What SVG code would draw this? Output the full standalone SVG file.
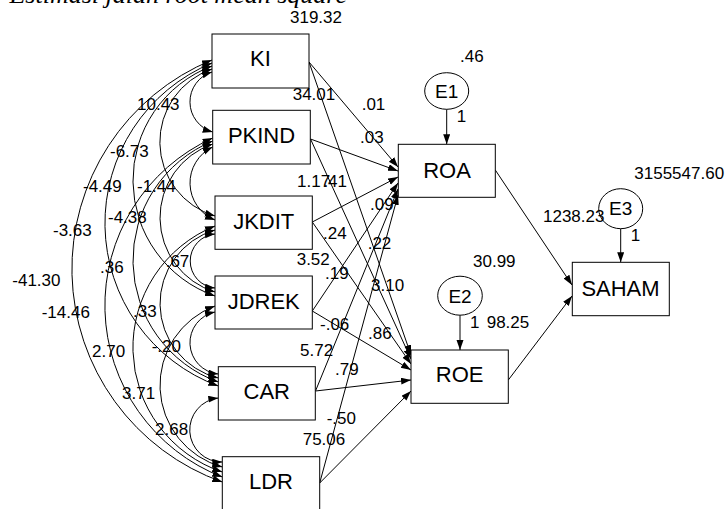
<svg xmlns="http://www.w3.org/2000/svg" width="726" height="509" viewBox="0 0 726 509">
<style>
.box{fill:#fff;stroke:#000;stroke-width:1}
.lat{fill:#fff;stroke:#000;stroke-width:1}
.nl{font-family:"Liberation Sans",Arial,sans-serif;font-size:22px;text-anchor:middle;fill:#000}
.el{font-family:"Liberation Sans",Arial,sans-serif;font-size:19px;text-anchor:middle;fill:#000}
.num{font-family:"Liberation Sans",Arial,sans-serif;font-size:17px;fill:#000}
.ln{fill:none;stroke:#000;stroke-width:1;marker-end:url(#ah)}
.cv{fill:none;stroke:#000;stroke-width:1;marker-start:url(#ah);marker-end:url(#ah)}
.ttl{font-family:"Liberation Serif","Times New Roman",serif;font-style:italic;font-size:26px;text-anchor:end;fill:#000}
</style>
<defs>
<marker id="ah" markerUnits="userSpaceOnUse" markerWidth="11" markerHeight="8" refX="10" refY="3.5" orient="auto-start-reverse">
<path d="M0,0 L10,3.5 L0,7 z" fill="#000"/>
</marker>
</defs>
<text class="ttl" x="347" y="3">Estimasi jalan root mean square</text>
<g id="connectors">
<path class="cv" d="M212,72 A31.3,31.3 0 0 0 212.7,132"/>
<path class="cv" d="M212,69 A77.2,77.2 0 0 0 215,216"/>
<path class="cv" d="M212,66 A122.4,122.4 0 0 0 215,296"/>
<path class="cv" d="M212,63 A173.5,173.5 0 0 0 218.3,386"/>
<path class="cv" d="M212,60 A226,226 0 0 0 222.3,482"/>
<path class="cv" d="M212.7,147 A39.9,39.9 0 0 0 215,220"/>
<path class="cv" d="M212.7,144 A77.8,77.8 0 0 0 215,292"/>
<path class="cv" d="M212.7,141 A129.3,129.3 0 0 0 218.3,382"/>
<path class="cv" d="M212.7,138 A184,184 0 0 0 222.3,477"/>
<path class="cv" d="M215,234 A27.1,27.1 0 0 0 215,288"/>
<path class="cv" d="M215,230 A76.7,76.7 0 0 0 218.3,378"/>
<path class="cv" d="M215,226 A131.2,131.2 0 0 0 222.3,472"/>
<path class="cv" d="M215,312 A31.4,31.4 0 0 0 218.3,374"/>
<path class="cv" d="M215,306 A84.7,84.7 0 0 0 222.3,467"/>
<path class="cv" d="M218.3,398 A32.1,32.1 0 0 0 222.3,462"/>
<path class="ln" d="M309,62 L398,167"/>
<path class="ln" d="M309,62 L411,355"/>
<path class="ln" d="M310.5,139 L398,171"/>
<path class="ln" d="M310.5,139 L411,359"/>
<path class="ln" d="M312.3,222 L398,177"/>
<path class="ln" d="M312.3,222 L411,364"/>
<path class="ln" d="M312.3,311 L398,183"/>
<path class="ln" d="M312.3,311 L411,370"/>
<path class="ln" d="M315.5,391 L398,189"/>
<path class="ln" d="M315.5,391 L411,380"/>
<path class="ln" d="M319.7,483 L398,195"/>
<path class="ln" d="M319.7,483 L411,391"/>
<path class="ln" d="M495.3,170 L572,285"/>
<path class="ln" d="M508.3,380 L572,296"/>
<path class="ln" d="M446.7,109.3 L446.7,144.3"/>
<path class="ln" d="M460,315.2 L460,350"/>
<path class="ln" d="M620.7,228.7 L620.7,262.3"/>
</g>
<g id="KI"><rect class="box" x="212" y="34" width="97" height="54"/><text class="nl" x="260.5" y="66">KI</text></g>
<g id="PKIND"><rect class="box" x="212.7" y="110.3" width="97.6" height="53.7"/><text class="nl" x="261.5" y="143">PKIND</text></g>
<g id="JKDIT"><rect class="box" x="215" y="196" width="97.3" height="53.3"/><text class="nl" x="263.7" y="229">JKDIT</text></g>
<g id="JDREK"><rect class="box" x="215" y="276" width="97.3" height="53"/><text class="nl" x="263.7" y="309">JDREK</text></g>
<g id="CAR"><rect class="box" x="218.3" y="366.7" width="97" height="53.3"/><text class="nl" x="266.8" y="399">CAR</text></g>
<g id="LDR"><rect class="box" x="222.3" y="456.7" width="97.4" height="60"/><text class="nl" x="271" y="489">LDR</text></g>
<g id="ROA"><rect class="box" x="398.3" y="144.3" width="97" height="53"/><text class="nl" x="447" y="177.7">ROA</text></g>
<g id="ROE"><rect class="box" x="411" y="350" width="97.3" height="53.3"/><text class="nl" x="459.7" y="382">ROE</text></g>
<g id="SAHAM"><rect class="box" x="572.3" y="262.3" width="97" height="53.4"/><text class="nl" x="620.5" y="295.7">SAHAM</text></g>
<g id="E1"><ellipse class="lat" cx="446.7" cy="91" rx="22" ry="18.3"/><text class="el" x="446.7" y="97.7">E1</text></g>
<g id="E2"><ellipse class="lat" cx="460" cy="295.7" rx="22.3" ry="19.5"/><text class="el" x="460" y="303">E2</text></g>
<g id="E3"><ellipse class="lat" cx="620.7" cy="208.7" rx="22" ry="20"/><text class="el" x="620.7" y="215">E3</text></g>
<g id="labels">
<text class="num" x="290" y="23">319.32</text>
<text class="num" x="460" y="62">.46</text>
<text class="num" x="456.7" y="122">1</text>
<text class="num" x="292.7" y="100">34.01</text>
<text class="num" x="361.7" y="110">.01</text>
<text class="num" x="137" y="110">10.43</text>
<text class="num" x="360" y="143">.03</text>
<text class="num" x="110" y="157">-6.73</text>
<text class="num" x="297" y="187">1.17</text>
<text class="num" x="323.4" y="187">.41</text>
<text class="num" x="83" y="192">-4.49</text>
<text class="num" x="137" y="192">-1.44</text>
<text class="num" x="634.3" y="179">3155547.60</text>
<text class="num" x="370" y="210">.09</text>
<text class="num" x="543" y="222">1238.23</text>
<text class="num" x="630.7" y="241">1</text>
<text class="num" x="108" y="223">-4.38</text>
<text class="num" x="53" y="236">-3.63</text>
<text class="num" x="323" y="239">.24</text>
<text class="num" x="367.7" y="249">.22</text>
<text class="num" x="296.7" y="265">3.52</text>
<text class="num" x="165.7" y="267">.67</text>
<text class="num" x="473" y="267">30.99</text>
<text class="num" x="100" y="273">.36</text>
<text class="num" x="325" y="279">.19</text>
<text class="num" x="12.3" y="286">-41.30</text>
<text class="num" x="371" y="291">3.10</text>
<text class="num" x="133" y="317">.33</text>
<text class="num" x="41.7" y="318">-14.46</text>
<text class="num" x="470" y="328">1</text>
<text class="num" x="486.7" y="328">98.25</text>
<text class="num" x="320" y="330">-.06</text>
<text class="num" x="368" y="339">.86</text>
<text class="num" x="151.7" y="352">-.20</text>
<text class="num" x="300" y="356">5.72</text>
<text class="num" x="92" y="357">2.70</text>
<text class="num" x="335" y="375">.79</text>
<text class="num" x="122" y="399">3.71</text>
<text class="num" x="326.7" y="424">-.50</text>
<text class="num" x="155" y="435">2.68</text>
<text class="num" x="302.7" y="445">75.06</text>
</g>
</svg>
